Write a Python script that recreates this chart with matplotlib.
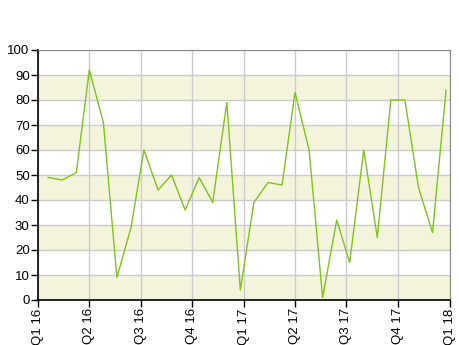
import numpy as np
import matplotlib
matplotlib.use("Agg")
import matplotlib.pyplot as plt
from datetime import date

plt.rcParams['font.family'] = ['Liberation Sans', 'DejaVu Sans']

# data
dates = ["2016-01-19", "2016-02-13", "2016-03-09", "2016-04-01", "2016-04-26",
         "2016-05-20", "2016-06-14", "2016-07-07", "2016-08-01", "2016-08-25",
         "2016-09-18", "2016-10-13", "2016-11-06", "2016-12-01", "2016-12-25",
         "2017-01-18", "2017-02-12", "2017-03-09", "2017-04-01", "2017-04-26",
         "2017-05-20", "2017-06-14", "2017-07-07", "2017-08-01", "2017-08-25",
         "2017-09-18", "2017-10-13", "2017-11-06", "2017-12-01", "2017-12-25"]
values = [49, 48, 51, 92, 71, 9, 29, 60, 44, 50, 36, 49, 39, 79, 4,
          39, 47, 46, 83, 60, 1, 32, 15, 60, 25, 80, 80, 45, 27, 84]
quarter_ticks = ["2016-01-01", "2016-04-01", "2016-07-01", "2016-10-01", "2017-01-01",
                 "2017-04-01", "2017-07-01", "2017-10-01", "2018-01-01"]
quarter_labels = ["Q1 16", "Q2 16", "Q3 16", "Q4 16", "Q1 17",
                  "Q2 17", "Q3 17", "Q4 17", "Q1 18"]

x = [date.fromisoformat(d) for d in dates]
qx = [date.fromisoformat(d) for d in quarter_ticks]

fig = plt.figure(figsize=(4.6, 3.45), dpi=100)
ax = fig.add_axes([38 / 460, 1 - 300 / 345, 412 / 460, 250 / 345])

# alternating bands
for lo in range(0, 100, 20):
    ax.axhspan(lo, lo + 10, color="#f4f4dc", lw=0, zorder=0)

ax.plot(x, values, color="#7fc31c", lw=1.0, zorder=3)

ax.set_xlim(qx[0], qx[-1])
ax.set_ylim(0, 100)
ax.set_yticks(np.arange(0, 101, 10))
ax.set_xticks(qx)
ax.set_xticklabels(quarter_labels, rotation=90)

ax.grid(True, color="#cccccc", lw=1.0, zorder=1)
ax.set_axisbelow(True)

ax.tick_params(axis="both", labelsize=9.5, length=5, width=1, color="black", pad=1)
for side in ("top", "right"):
    ax.spines[side].set_color("#888888")
for side in ("left", "bottom"):
    ax.spines[side].set_color("black")
    ax.spines[side].set_linewidth(1.2)

fig.savefig("out.png", dpi=100)
